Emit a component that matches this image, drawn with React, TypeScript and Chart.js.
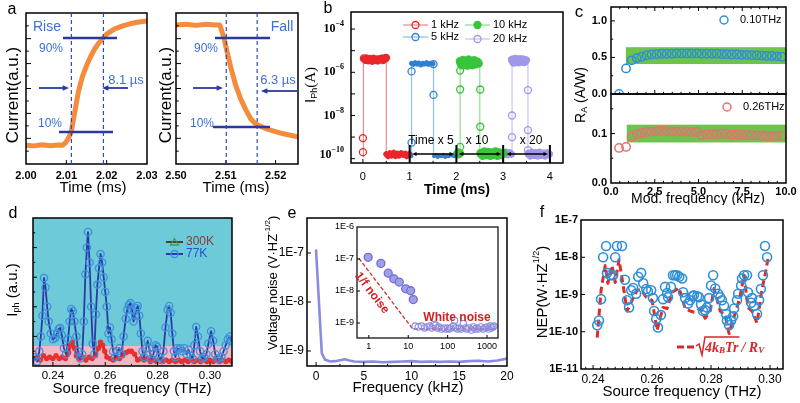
import React, { useEffect, useRef } from 'react';
import { Chart, registerables } from 'chart.js';

Chart.register(...registerables);

const SANS = '"Liberation Sans", Arial, Helvetica, sans-serif';
const SERIF = '"Liberation Serif", "Times New Roman", serif';
Chart.defaults.font.family = SANS;
Chart.defaults.color = '#000';

// ---------------- DATA ----------------
// (a) rise / fall transients
const riseTime = [2.000, 2.002, 2.004, 2.006, 2.008, 2.009, 2.0098, 2.0105, 2.0112, 2.012, 2.013, 2.014, 2.015, 2.016, 2.017, 2.018, 2.019, 2.020, 2.022, 2.024, 2.026, 2.028, 2.030];
const riseCurrent = [0.125, 0.12, 0.128, 0.121, 0.126, 0.124, 0.14, 0.17, 0.21, 0.33, 0.48, 0.58, 0.65, 0.71, 0.76, 0.80, 0.83, 0.86, 0.895, 0.915, 0.93, 0.94, 0.948];
const fallTime = [2.500, 2.502, 2.504, 2.506, 2.508, 2.5088, 2.5092, 2.5097, 2.510, 2.511, 2.512, 2.513, 2.514, 2.515, 2.516, 2.517, 2.518, 2.519, 2.520, 2.521, 2.522, 2.523, 2.5245];
const fallCurrent = [0.92, 0.925, 0.918, 0.926, 0.921, 0.92, 0.88, 0.83, 0.78, 0.64, 0.52, 0.43, 0.36, 0.30, 0.265, 0.25, 0.235, 0.225, 0.215, 0.205, 0.197, 0.19, 0.18];
const aTicksX1 = [2.0, 2.01, 2.02, 2.03];
const aTicksX2 = [2.5, 2.51, 2.52];

// (b) photocurrent vs time, 4 modulation frequencies
const bLegend = ['1 kHz', '5 kHz', '10 kHz', '20 kHz'];
const bTicksX = [0, 1, 2, 3, 4];
const bLabelExp = [-4, -6, -8, -10];
const bRedPlateauT = [0.02, 0.05, 0.08, 0.11, 0.14, 0.17, 0.2, 0.23, 0.26, 0.29, 0.32, 0.35, 0.38, 0.41, 0.44, 0.47, 0.5];
const bRedPlateauI = [4.2e-6, 3.6e-6, 4.6e-6, 3.4e-6, 4.4e-6, 3.8e-6, 3.2e-6, 4.5e-6, 3.6e-6, 4.1e-6, 3.3e-6, 4.3e-6, 3.7e-6, 4.6e-6, 3.5e-6, 4.2e-6, 4.8e-6];
const bRedFloorT = [0.5, 0.54, 0.58, 0.62, 0.66, 0.7, 0.74, 0.78, 0.82, 0.86, 0.9, 0.94, 0.98];
const bRedFloorI = [1.6e-10, 1.3e-10, 1.8e-10, 1.4e-10, 1.9e-10, 1.3e-10, 1.7e-10, 1.4e-10, 1.8e-10, 1.5e-10, 1.7e-10, 1.3e-10, 1.6e-10];
const bRedEdgeT = [0.01, 0.01, 0.5, 0.5];
const bRedEdgeI = [1.2e-10, 4e-6, 4e-6, 1.4e-10];
const bRedMarkT = [0.0, 0.0, 0.02, 0.49];
const bRedMarkI = [2e-10, 9e-10, 4.4e-6, 4.6e-6];
const bBluePreT = [0.99, 1.02, 1.04];
const bBluePreI = [1.4e-10, 1.7e-10, 1.3e-10];
const bBluePlateauT = [1.04, 1.08, 1.12, 1.16, 1.2, 1.24, 1.28, 1.32, 1.36, 1.4, 1.44, 1.48, 1.5];
const bBluePlateauI = [2.6e-6, 2.3e-6, 2.8e-6, 2.4e-6, 2.7e-6, 2.2e-6, 2.6e-6, 2.4e-6, 2.8e-6, 2.3e-6, 2.6e-6, 2.4e-6, 2.5e-6];
const bBlueFloorT = [1.52, 1.56, 1.6, 1.64, 1.68, 1.72, 1.76, 1.8, 1.84, 1.88, 1.92, 1.96];
const bBlueFloorI = [1.3e-10, 1.5e-10, 1.2e-10, 1.4e-10, 1.3e-10, 1.5e-10, 1.2e-10, 1.4e-10, 1.3e-10, 1.5e-10, 1.4e-10, 1.3e-10];
const bBlueEdgeT = [1.04, 1.04, 1.51, 1.51];
const bBlueEdgeI = [1.3e-10, 2.5e-6, 2.5e-6, 1.3e-10];
const bBlueMarkT = [1.04, 1.04, 1.51, 1.51];
const bBlueMarkI = [1.1e-6, 5.5e-10, 2.4e-6, 9e-8];
const bGreenPreT = [2.0, 2.03, 2.06, 2.08];
const bGreenPreI = [1.7e-10, 2.1e-10, 1.5e-10, 1.9e-10];
const bGreenPlateauT = [2.08, 2.11, 2.14, 2.17, 2.2, 2.23, 2.26, 2.29, 2.32, 2.35, 2.38, 2.41, 2.44, 2.47];
const bGreenPlateauI = [3.2e-6, 2.2e-6, 3.6e-6, 2.4e-6, 3.4e-6, 2.1e-6, 3.8e-6, 2.5e-6, 3.3e-6, 2.2e-6, 3.5e-6, 2.4e-6, 3.1e-6, 2.6e-6];
const bGreenFloorT = [2.52, 2.56, 2.6, 2.64, 2.68, 2.72, 2.76, 2.8, 2.84, 2.88, 2.92, 2.96, 3.0];
const bGreenFloorI = [1.8e-10, 1.4e-10, 2.1e-10, 1.5e-10, 2e-10, 1.4e-10, 1.9e-10, 1.5e-10, 2.1e-10, 1.4e-10, 1.9e-10, 1.5e-10, 1.8e-10];
const bGreenEdgeT = [2.08, 2.08, 2.5, 2.5];
const bGreenEdgeI = [1.5e-10, 3e-6, 3e-6, 1.6e-10];
const bGreenMarkT = [2.08, 2.08, 2.08, 2.51, 2.51];
const bGreenMarkI = [1.2e-6, 1.6e-7, 3.5e-10, 1.6e-7, 3e-9];
const bPurplePreT = [3.02, 3.06, 3.1, 3.14, 3.18];
const bPurplePreI = [1.6e-10, 2e-10, 1.5e-10, 1.9e-10, 1.6e-10];
const bPurplePlateauT = [3.19, 3.22, 3.25, 3.28, 3.31, 3.34, 3.37, 3.4, 3.43, 3.46, 3.49];
const bPurplePlateauI = [3.8e-6, 2.8e-6, 4.2e-6, 3e-6, 4e-6, 2.9e-6, 4.1e-6, 3.1e-6, 3.9e-6, 3e-6, 3.6e-6];
const bPurpleFloorT = [3.54, 3.58, 3.62, 3.66, 3.7, 3.74, 3.78, 3.82, 3.86, 3.9, 3.94, 3.98];
const bPurpleFloorI = [1.7e-10, 1.4e-10, 1.9e-10, 1.5e-10, 1.8e-10, 1.4e-10, 1.9e-10, 1.5e-10, 1.7e-10, 1.4e-10, 1.8e-10, 1.6e-10];
const bPurpleEdgeT = [3.19, 3.19, 3.53, 3.53];
const bPurpleEdgeI = [1.5e-10, 3.5e-6, 3.5e-6, 1.6e-10];
const bPurpleMarkT = [3.19, 3.19, 3.19, 3.53, 3.53, 3.53];
const bPurpleMarkI = [3.8e-6, 1e-8, 1e-9, 1.5e-7, 2.1e-9, 2.5e-10];

// (c) responsivity vs modulation frequency
const cModFreq = [0.46, 0.86, 1.18, 1.47, 1.75, 2.04, 2.32, 2.61, 2.9, 3.18, 3.47, 3.75, 4.04, 4.33, 4.61, 4.9, 5.18, 5.47, 5.76, 6.04, 6.33, 6.61, 6.9, 7.19, 7.47, 7.76, 8.04, 8.33, 8.62, 8.9, 9.19, 9.47, 9.76];
const cResp010 = [0.0, 0.35, 0.46, 0.49, 0.51, 0.53, 0.54, 0.545, 0.55, 0.55, 0.55, 0.555, 0.555, 0.555, 0.555, 0.555, 0.55, 0.55, 0.55, 0.55, 0.545, 0.545, 0.54, 0.54, 0.535, 0.535, 0.53, 0.53, 0.525, 0.52, 0.52, 0.515, 0.51];
const cResp026 = [0.071, 0.073, 0.094, 0.099, 0.101, 0.103, 0.104, 0.105, 0.106, 0.105, 0.104, 0.104, 0.105, 0.104, 0.103, 0.103, 0.097, 0.098, 0.099, 0.099, 0.1, 0.099, 0.098, 0.098, 0.097, 0.097, 0.096, 0.096, 0.096, 0.095, 0.095, 0.095, 0.096];
const cBand010 = [0.85, 10, 0.41, 0.64];
const cBand026 = [0.9, 10, 0.082, 0.118];
const cTicksX = [0, 2.5, 5, 7.5, 10];

// (d) photocurrent spectrum
const dFreq77 = [
  0.2330, 0.2340, 0.2348, 0.2354, 0.2360, 0.2366, 0.2372, 0.2378, 0.2384, 0.2392,
  0.2400, 0.2408, 0.2416, 0.2422, 0.2428, 0.2434, 0.2442, 0.2450, 0.2458, 0.2464,
  0.2470, 0.2476, 0.2482, 0.2490, 0.2496, 0.2504, 0.2512, 0.2518, 0.2524, 0.2530,
  0.2534, 0.2540, 0.2546, 0.2552, 0.2558, 0.2564, 0.2570, 0.2576, 0.2582, 0.2588,
  0.2594, 0.2600, 0.2606, 0.2612, 0.2618, 0.2624, 0.2630, 0.2638, 0.2646, 0.2654,
  0.2662, 0.2670, 0.2678, 0.2684, 0.2690, 0.2696, 0.2702, 0.2708, 0.2714, 0.2720,
  0.2724, 0.2730, 0.2736, 0.2742, 0.2748, 0.2756, 0.2762, 0.2768, 0.2776, 0.2784,
  0.2792, 0.2798, 0.2806, 0.2814, 0.2822, 0.2830, 0.2838, 0.2844, 0.2850, 0.2856,
  0.2862, 0.2868, 0.2874, 0.2880, 0.2886, 0.2894, 0.2902, 0.2910, 0.2918, 0.2926,
  0.2934, 0.2940, 0.2947, 0.2954, 0.2962, 0.2970, 0.2978, 0.2986, 0.2994, 0.3004,
  0.3012, 0.3020, 0.3028, 0.3036, 0.3044, 0.3052, 0.3060, 0.3068, 0.3076, 0.3082];
const dIph77 = [
  0.06, 0.03, 0.10, 0.20, 0.34, 0.595, 0.53, 0.40, 0.30, 0.22,
  0.18, 0.19, 0.22, 0.25, 0.257, 0.21, 0.12, 0.08, 0.18, 0.30,
  0.385, 0.37, 0.30, 0.20, 0.10, 0.05, 0.08, 0.30, 0.62, 0.80,
  0.905, 0.70, 0.40, 0.15, 0.08, 0.35, 0.55, 0.66, 0.757, 0.70,
  0.60, 0.50, 0.40, 0.22, 0.26, 0.18, 0.10, 0.06, 0.10, 0.12,
  0.08, 0.20, 0.32, 0.38, 0.41, 0.425, 0.38, 0.30, 0.34, 0.39,
  0.405, 0.34, 0.22, 0.10, 0.06, 0.12, 0.17, 0.12, 0.05, 0.08,
  0.14, 0.13, 0.06, 0.04, 0.10, 0.26, 0.38, 0.405, 0.36, 0.22,
  0.10, 0.06, 0.12, 0.11, 0.12, 0.10, 0.12, 0.08, 0.11, 0.07,
  0.05, 0.14, 0.264, 0.20, 0.10, 0.05, 0.06, 0.08, 0.15, 0.235,
  0.17, 0.08, 0.05, 0.04, 0.06, 0.10, 0.14, 0.18, 0.20, 0.17];
const dFreq300 = [
  0.2328, 0.2340, 0.2352, 0.2364, 0.2376, 0.2388, 0.2400, 0.2412, 0.2424, 0.2436,
  0.2448, 0.2460, 0.2466, 0.2474, 0.2482, 0.2490, 0.2502, 0.2514, 0.2526, 0.2538,
  0.2550, 0.2562, 0.2574, 0.2582, 0.2590, 0.2598, 0.2606, 0.2618, 0.2630, 0.2642,
  0.2654, 0.2666, 0.2678, 0.2690, 0.2700, 0.2712, 0.2724, 0.2736, 0.2748, 0.2760,
  0.2772, 0.2784, 0.2796, 0.2808, 0.2820, 0.2832, 0.2844, 0.2856, 0.2868, 0.2880,
  0.2892, 0.2904, 0.2916, 0.2928, 0.2940, 0.2952, 0.2964, 0.2976, 0.2988, 0.3000,
  0.3012, 0.3024, 0.3036, 0.3048, 0.3060, 0.3072, 0.3084];
const dIph300 = [
  0.05, 0.06, 0.04, 0.07, 0.05, 0.06, 0.05, 0.07, 0.05, 0.06,
  0.05, 0.09, 0.14, 0.16, 0.12, 0.07, 0.05, 0.06, 0.04, 0.06,
  0.05, 0.07, 0.12, 0.16, 0.14, 0.10, 0.06, 0.05, 0.04, 0.06,
  0.05, 0.07, 0.09, 0.10, 0.10, 0.08, 0.04, 0.05, 0.04, 0.05,
  0.03, 0.04, 0.03, 0.05, 0.03, 0.04, 0.03, 0.04, 0.03, 0.04,
  0.03, 0.04, 0.03, 0.04, 0.03, 0.04, 0.03, 0.04, 0.03, 0.04,
  0.03, 0.04, 0.03, 0.04, 0.03, 0.04, 0.03];
const dTicksX = [0.24, 0.26, 0.28, 0.30];
const dPinkTop = 0.135;

// (e) voltage noise
const eFreq = [0, 0.6, 0.95, 1.5, 2, 2.5, 3, 3.5, 4, 5, 6, 7, 8, 9, 10, 11, 12, 13, 14, 15, 16, 17, 18, 19, 20];
const eNoise = [1.12e-7, 9e-10, 6.6e-10, 6.1e-10, 6.2e-10, 6.5e-10, 6.8e-10, 6.4e-10, 6.1e-10, 6e-10, 6.1e-10, 5.9e-10, 6e-10, 6.1e-10, 6.2e-10, 6e-10, 6.1e-10, 6e-10, 6.1e-10, 6e-10, 6.2e-10, 6.3e-10, 6.1e-10, 6.4e-10, 7e-10];
const eTicksX = [0, 5, 10, 15, 20];
const eTicksY = [1e-9, 1e-8, 1e-7];
const insetFlickerF = [0.96, 2.02, 3.1, 4.3, 5.9, 8.6, 11.5, 13.4];
const insetFlickerN = [1.13e-7, 7.3e-8, 3.6e-8, 2.4e-8, 1.9e-8, 1.17e-8, 1.02e-8, 5.4e-9];
const insetWhiteF = [15, 18, 22, 26, 30, 35, 40, 45, 50, 55, 60, 70, 80, 90, 100, 110, 120, 140, 150, 160, 180, 200, 220, 250, 280, 300, 350, 400, 450, 500, 550, 600, 700, 800, 900, 1000, 1100, 1200, 1300, 1400, 1500];
const insetWhiteN = [8e-10, 7.5e-10, 8e-10, 7e-10, 7.5e-10, 8e-10, 7e-10, 9e-10, 8.5e-10, 7e-10, 7.5e-10, 6.5e-10, 7e-10, 6.5e-10, 7e-10, 6.5e-10, 7e-10, 8e-10, 1.2e-9, 7e-10, 6.5e-10, 7e-10, 6.5e-10, 9.5e-10, 7e-10, 6.5e-10, 7e-10, 6e-10, 7.5e-10, 6.5e-10, 7e-10, 6.5e-10, 7.5e-10, 6.5e-10, 7e-10, 7.5e-10, 6.5e-10, 8e-10, 7e-10, 7.5e-10, 8e-10];
const insetGuideF = [0.56, 13, 1900];
const insetGuideN = [1.05e-7, 6.5e-10, 6.5e-10];
const insetTicksX = [1, 10, 100, 1000];
const insetTicksY = [1e-9, 1e-8, 1e-7, 1e-6];

// (f) NEP spectrum
const fFreq = [
  0.2414, 0.2420, 0.2427, 0.2434, 0.2444, 0.2447, 0.2458, 0.2468, 0.2475, 0.2481,
  0.2498, 0.2508, 0.2515, 0.2522, 0.2529, 0.2536, 0.2546, 0.2553, 0.2563, 0.2570,
  0.2580, 0.2586, 0.2597, 0.2603, 0.2607, 0.2614, 0.2620, 0.2630, 0.2637, 0.2644,
  0.2651, 0.2654, 0.2664, 0.2671, 0.2678, 0.2685, 0.2692, 0.2702, 0.2705, 0.2712,
  0.2722, 0.2729, 0.2736, 0.2742, 0.2753, 0.2759, 0.2766, 0.2773, 0.2780, 0.2786,
  0.2793, 0.2800, 0.2807, 0.2814, 0.2824, 0.2831, 0.2837, 0.2844, 0.2851, 0.2854,
  0.2861, 0.2868, 0.2875, 0.2878, 0.2888, 0.2892, 0.2902, 0.2905, 0.2912, 0.2922,
  0.2925, 0.2936, 0.2939, 0.2946, 0.2956, 0.2963, 0.2969, 0.2976, 0.2983, 0.2990];
const fNEP = [
  1.5e-10, 2e-10, 7.5e-10, 1e-8, 2e-8, 3.8e-9, 3.3e-9, 3.3e-9, 1e-8, 2e-8,
  2e-8, 2.5e-9, 7e-10, 4.5e-10, 1.3e-9, 1.5e-9, 1.05e-9, 3e-9, 3.8e-9, 2e-9,
  1.4e-9, 1.2e-9, 1.3e-9, 8e-10, 3.6e-10, 2.2e-10, 1.3e-10, 2.8e-10, 7.5e-10, 1.6e-9,
  1.1e-9, 8.5e-10, 1.6e-9, 3.3e-9, 3.3e-9, 3.3e-9, 3e-9, 2.7e-9, 1.15e-9, 8e-10,
  5.7e-10, 7e-10, 9e-10, 9.5e-10, 9e-10, 8.5e-10, 5.4e-10, 3.6e-10, 3.8e-10, 4.5e-10,
  8e-10, 1.75e-9, 3.3e-9, 1.45e-9, 1.05e-9, 8.5e-10, 7e-10, 5e-10, 3e-10, 2e-10,
  1.5e-10, 2e-10, 2.6e-10, 4.2e-10, 7e-10, 1.05e-9, 1.75e-9, 2.7e-9, 3.3e-9, 3.3e-9,
  1.15e-9, 6e-10, 8e-10, 5e-10, 3e-10, 7e-10, 1.4e-9, 3.3e-9, 2e-8, 1e-8];
const fFitFreq = [
  0.2414, 0.2427, 0.2441, 0.2450, 0.2464, 0.2475, 0.2488, 0.2502, 0.2515, 0.2536,
  0.2549, 0.2563, 0.2580, 0.2600, 0.2617, 0.2637, 0.2651, 0.2668, 0.2692, 0.2712,
  0.2729, 0.2746, 0.2763, 0.2780, 0.2797, 0.2810, 0.2831, 0.2848, 0.2861, 0.2881,
  0.2898, 0.2912, 0.2925, 0.2939, 0.2956, 0.2973, 0.2983, 0.2993];
const fFitNEP = [
  7e-11, 1.3e-9, 6e-9, 2e-9, 6e-9, 2.1e-9, 8.6e-9, 1.75e-9, 3.6e-10, 8e-10,
  1.3e-9, 1.35e-9, 8.5e-10, 7e-10, 1.1e-10, 4.5e-10, 4.2e-10, 1.15e-9, 1.5e-9, 4.2e-10,
  3.6e-10, 3.3e-10, 4.2e-10, 2.3e-10, 3.6e-10, 1.45e-9, 3.6e-10, 2.7e-10, 9e-11, 3e-10,
  8.5e-10, 3.3e-9, 4.5e-10, 3.6e-10, 1.7e-10, 1.45e-9, 3.3e-9, 9e-9];
const fTicksX = [0.24, 0.26, 0.28, 0.30];
const fTicksY = [1e-11, 1e-10, 1e-9, 1e-8, 1e-7];

// ---------------- HELPERS ----------------
type Ctx = CanvasRenderingContext2D;
interface Part { t: string; size: number; weight?: string; italic?: boolean; family?: string; dy?: number; color?: string }
interface Axis {
  type?: string; min: number; max: number; ticks?: number[]; minor?: number[];
  fmt?: (v: number) => string; font?: any; pad?: number; len?: number; sides?: string[];
}
interface Helper { sx: (v: number) => number; sy: (v: number) => number; l: number; t: number; r: number; b: number }
interface Spec {
  box: number[]; plot: number[]; x: Axis; y: Axis; datasets: any[];
  bg?: (c: Ctx, h: Helper) => void; fg?: (c: Ctx, h: Helper) => void; frame?: number; plotBg?: string;
}

const pts = (xs: number[], ys: number[]) => xs.map((x, i) => ({ x, y: ys[i] }));
const logLabel = (v: number) => '1E' + Math.round(Math.log10(v));

function rich(c: Ctx, x: number, y: number, parts: Part[], o: any = {}): number {
  const angle = o.angle || 0, align = o.align || 'center', color = o.color || '#000';
  c.save();
  c.translate(x, y);
  if (angle) c.rotate(angle);
  const fonts = parts.map((p) => `${p.italic ? 'italic ' : ''}${p.weight || 'normal'} ${p.size}px ${p.family || SANS}`);
  const ws = parts.map((p, i) => { c.font = fonts[i]; return c.measureText(p.t).width; });
  const tot = ws.reduce((s, w) => s + w, 0);
  let px = align === 'center' ? -tot / 2 : align === 'right' ? -tot : 0;
  c.textAlign = 'left';
  c.textBaseline = 'middle';
  parts.forEach((p, i) => { c.font = fonts[i]; c.fillStyle = p.color || color; c.fillText(p.t, px, p.dy || 0); px += ws[i]; });
  c.restore();
  return tot;
}
const txt = (c: Ctx, x: number, y: number, t: string, size: number, o: any = {}) =>
  rich(c, x, y, [{ t, size, weight: o.weight, family: o.family, italic: o.italic }], o);

function seg(c: Ctx, x1: number, y1: number, x2: number, y2: number, color: string, lw = 1, dash: number[] = []) {
  c.save(); c.strokeStyle = color; c.lineWidth = lw; c.setLineDash(dash);
  c.beginPath(); c.moveTo(x1, y1); c.lineTo(x2, y2); c.stroke(); c.restore();
}
function arrow(c: Ctx, x1: number, y1: number, x2: number, y2: number, color: string, lw = 1.5, head = 6, both = false) {
  c.save(); c.strokeStyle = color; c.fillStyle = color; c.lineWidth = lw;
  const a = Math.atan2(y2 - y1, x2 - x1);
  const hd = (x: number, y: number, an: number) => {
    c.beginPath(); c.moveTo(x, y);
    c.lineTo(x - head * Math.cos(an - 0.42), y - head * Math.sin(an - 0.42));
    c.lineTo(x - head * Math.cos(an + 0.42), y - head * Math.sin(an + 0.42));
    c.closePath(); c.fill();
  };
  c.beginPath();
  c.moveTo(x1 + (both ? Math.cos(a) * head * 0.8 : 0), y1);
  c.lineTo(x2 - Math.cos(a) * head * 0.8, y2 - Math.sin(a) * head * 0.8);
  c.stroke();
  hd(x2, y2, a); if (both) hd(x1, y1, a + Math.PI);
  c.restore();
}
function circle(c: Ctx, x: number, y: number, r: number, stroke: string, fill?: string, lw = 1.3) {
  c.save(); c.beginPath(); c.arc(x, y, r, 0, Math.PI * 2);
  if (fill) { c.fillStyle = fill; c.fill(); }
  c.strokeStyle = stroke; c.lineWidth = lw; c.stroke(); c.restore();
}

const lineDs = (xs: number[], ys: number[], color: string, width: number, extra: any = {}) => ({
  data: pts(xs, ys), borderColor: color, borderWidth: width, pointRadius: 0, fill: false, tension: 0,
  borderJoinStyle: 'round', borderCapStyle: 'round', ...extra,
});
const dotDs = (xs: number[], ys: number[], color: string, r = 3.5, extra: any = {}) => ({
  data: pts(xs, ys), showLine: false, borderColor: color, pointBorderColor: color,
  pointBackgroundColor: 'rgba(0,0,0,0)', pointRadius: r, pointBorderWidth: 1.3, ...extra,
});

function innerTicks(c: Ctx, chart: any, a: Axis, isX: boolean) {
  const sc = chart.scales[isX ? 'x' : 'y'];
  const ca = chart.chartArea;
  const sides = a.sides || [isX ? 'bottom' : 'left'];
  const L = a.len ?? 4;
  const lo = Math.min(a.min, a.max), hi = Math.max(a.min, a.max);
  const draw = (vals: number[] | undefined, len: number) => (vals || []).forEach((v) => {
    if (v <= lo || v >= hi) return;
    const p = sc.getPixelForValue(v);
    sides.forEach((s) => {
      c.beginPath();
      if (s === 'bottom') { c.moveTo(p, ca.bottom); c.lineTo(p, ca.bottom - len); }
      else if (s === 'top') { c.moveTo(p, ca.top); c.lineTo(p, ca.top + len); }
      else if (s === 'left') { c.moveTo(ca.left, p); c.lineTo(ca.left + len, p); }
      else { c.moveTo(ca.right, p); c.lineTo(ca.right - len, p); }
      c.stroke();
    });
  });
  draw(a.ticks, L);
  draw(a.minor, L * 0.55);
}

function build(spec: Spec) {
  const [bx, by, bw, bh] = spec.box;
  const [pl, pt, pr, pb] = spec.plot;
  const axis = (a: Axis, isX: boolean) => ({
    type: a.type || 'linear', min: a.min, max: a.max, position: isX ? 'bottom' : 'left',
    afterBuildTicks: (s: any) => { s.ticks = (a.ticks || []).map((v) => ({ value: v })); },
    afterFit: (s: any) => {
      if (isX) s.height = by + bh - pb; else s.width = pl - bx;
      s.paddingLeft = 0; s.paddingRight = 0; s.paddingTop = 0; s.paddingBottom = 0;
    },
    ticks: {
      display: !!a.fmt, callback: (v: any) => (a.fmt ? a.fmt(Number(v)) : ''),
      font: { family: SANS, size: 11, ...(a.font || {}) }, color: '#000', padding: a.pad ?? 3,
      autoSkip: false, maxRotation: 0, minRotation: 0,
    },
    grid: { display: false, drawTicks: false, tickLength: 0 }, border: { display: false }, title: { display: false },
  });
  const helper = (chart: any): Helper => ({
    sx: (v) => chart.scales.x.getPixelForValue(v) + bx,
    sy: (v) => chart.scales.y.getPixelForValue(v) + by,
    l: chart.chartArea.left + bx, t: chart.chartArea.top + by,
    r: chart.chartArea.right + bx, b: chart.chartArea.bottom + by,
  });
  const plugin = {
    id: 'panelDeco',
    beforeDatasetsDraw(chart: any) {
      const c = chart.ctx; const a = chart.chartArea;
      c.save();
      if (spec.plotBg) { c.fillStyle = spec.plotBg; c.fillRect(a.left, a.top, a.right - a.left, a.bottom - a.top); }
      c.translate(-bx, -by);
      if (spec.bg) spec.bg(c, helper(chart));
      c.restore();
    },
    afterDraw(chart: any) {
      const c = chart.ctx; const a = chart.chartArea;
      c.save();
      c.strokeStyle = '#000'; c.lineWidth = 1;
      innerTicks(c, chart, spec.x, true);
      innerTicks(c, chart, spec.y, false);
      c.lineWidth = spec.frame ?? 1.5;
      c.strokeRect(a.left, a.top, a.right - a.left, a.bottom - a.top);
      c.translate(-bx, -by);
      if (spec.fg) spec.fg(c, helper(chart));
      c.restore();
    },
  };
  return {
    type: 'line',
    data: { datasets: spec.datasets },
    options: {
      responsive: false, animation: false, devicePixelRatio: 1, events: [],
      layout: { padding: { left: 0, top: pt - by, right: bx + bw - pr, bottom: 0 } },
      scales: { x: axis(spec.x, true), y: axis(spec.y, false) },
      plugins: { legend: { display: false }, tooltip: { enabled: false } },
    },
    plugins: [plugin],
  };
}

// ---------------- PANELS ----------------
const BL = '#3b6fd9';
const NV = '#2a3a9c';
const ORANGE = '#f58b3c';
const aYTicks = [0.17, 0.335, 0.5, 0.665, 0.83];
const aYMinor = [0.085, 0.2525, 0.4175, 0.5825, 0.7475, 0.915];

const A_LEFT: Spec = {
  box: [0, 0, 166, 200], plot: [26, 13, 147, 164],
  x: { min: 2.0, max: 2.03, ticks: aTicksX1, fmt: (v) => v.toFixed(2), font: { size: 11, weight: 'bold' }, pad: 5 },
  y: { min: 0, max: 1, ticks: aYTicks, minor: aYMinor, len: 5 },
  datasets: [lineDs(riseTime, riseCurrent, ORANGE, 5)],
  fg: (c, h) => {
    txt(c, 12, 10, 'a', 16);
    txt(c, 13, 95, 'Current(a.u.)', 17, { angle: -Math.PI / 2 });
    txt(c, 93, 188, 'Time (ms)', 15);
    txt(c, 47, 27, 'Rise', 14, { color: BL });
    seg(c, 63, 38, 117, 38, NV, 2.4);
    seg(c, 59, 132, 113, 132, NV, 2.4);
    txt(c, 51, 49, '90%', 12, { color: BL });
    txt(c, 50, 124, '10%', 12, { color: BL });
    [2.01125, 2.0192].forEach((t) => seg(c, h.sx(t), h.t, h.sx(t), h.b, '#3346c0', 1.2, [4, 3]));
    arrow(c, 39, 88, 69, 88, NV, 1.8, 7);
    arrow(c, 128, 88, 102, 88, NV, 1.8, 7);
    txt(c, 126, 80, '8.1 µs', 13, { color: BL });
  },
};

const A_RIGHT: Spec = {
  box: [150, 0, 162, 200], plot: [176, 13, 298, 164],
  x: { min: 2.5, max: 2.5245, ticks: aTicksX2, fmt: (v) => v.toFixed(2), font: { size: 11, weight: 'bold' }, pad: 5 },
  y: { min: 0, max: 1, ticks: aYTicks, minor: aYMinor, len: 5 },
  datasets: [lineDs(fallTime, fallCurrent, ORANGE, 5)],
  fg: (c, h) => {
    txt(c, 166, 95, 'Current(a.u.)', 17, { angle: -Math.PI / 2 });
    txt(c, 236, 188, 'Time (ms)', 15);
    txt(c, 282, 27, 'Fall', 14, { color: BL });
    seg(c, 215, 38, 270, 38, NV, 2.4);
    seg(c, 213, 127, 270, 127, NV, 2.4);
    txt(c, 206, 49, '90%', 12, { color: BL });
    txt(c, 202, 124, '10%', 12, { color: BL });
    [2.5101, 2.5163].forEach((t) => seg(c, h.sx(t), h.t, h.sx(t), h.b, '#3346c0', 1.2, [4, 3]));
    arrow(c, 193, 88, 223, 88, NV, 1.8, 7);
    arrow(c, 297, 91, 261, 91, NV, 1.8, 7);
    txt(c, 278, 80, '6.3 µs', 13, { color: BL });
  },
};

const RED_D = '#e8262c', RED_L = 'rgba(240,120,120,0.85)';
const BLU_D = '#2f7fd2', BLU_L = '#8fc2ee';
const GRN_D = '#3ac43a', GRN_L = '#8fe08f';
const PUR_D = '#a097e8', PUR_L = '#c9c3f3';

const B: Spec = {
  box: [300, 0, 272, 200], plot: [351, 12, 563, 163],
  x: { min: -0.255, max: 4.28, ticks: bTicksX, fmt: (v) => String(v), font: { size: 11 }, pad: 7, minor: [0.5, 1.5, 2.5, 3.5] },
  y: { type: 'logarithmic', min: 6.3e-11, max: 6.2e-4, ticks: [1e-10, 1e-9, 1e-8, 1e-7, 1e-6, 1e-5, 1e-4], len: 4 },
  datasets: [
    dotDs(bRedMarkT, bRedMarkI, RED_D),
    dotDs(bBlueMarkT, bBlueMarkI, BLU_D),
    dotDs(bGreenMarkT, bGreenMarkI, GRN_D),
    dotDs(bPurpleMarkT, bPurpleMarkI, PUR_D),
    lineDs(bRedPlateauT, bRedPlateauI, RED_D, 7),
    lineDs(bRedFloorT, bRedFloorI, RED_D, 6),
    lineDs(bBluePlateauT, bBluePlateauI, BLU_D, 5),
    lineDs(bBlueFloorT, bBlueFloorI, BLU_D, 4),
    lineDs(bBluePreT, bBluePreI, BLU_D, 4),
    lineDs(bGreenPlateauT, bGreenPlateauI, GRN_D, 9),
    lineDs(bGreenFloorT, bGreenFloorI, GRN_D, 9),
    lineDs(bGreenPreT, bGreenPreI, GRN_D, 7),
    lineDs(bPurplePlateauT, bPurplePlateauI, PUR_D, 8),
    lineDs(bPurpleFloorT, bPurpleFloorI, PUR_D, 8),
    lineDs(bPurplePreT, bPurplePreI, PUR_D, 7),
    lineDs(bRedEdgeT, bRedEdgeI, RED_L, 1.2),
    lineDs(bBlueEdgeT, bBlueEdgeI, BLU_L, 1.2),
    lineDs(bGreenEdgeT, bGreenEdgeI, GRN_L, 1.2),
    lineDs(bPurpleEdgeT, bPurpleEdgeI, PUR_L, 1.2),
  ],
  fg: (c, h) => {
    txt(c, 328, 9, 'b', 16);
    bLabelExp.forEach((e) => {
      const y = h.sy(Math.pow(10, e)) - (e === -10 ? 4 : 0);
      rich(c, 344, y, [
        { t: '10', size: 12, weight: 'bold', family: SERIF },
        { t: '\u2212' + (-e), size: 8, weight: 'bold', family: SERIF, dy: -5 },
      ], { align: 'right' });
    });
    rich(c, 311, 85, [{ t: 'I', size: 15 }, { t: 'Ph', size: 9, dy: 4 }, { t: '(A)', size: 15, family: SERIF }], { angle: -Math.PI / 2 });
    txt(c, 457, 190, 'Time (ms)', 14, { weight: 'bold' });
    const leg = [
      { x: 403, y: 25, l: RED_L, m: RED_D, f: undefined },
      { x: 403, y: 37, l: BLU_L, m: BLU_D, f: undefined },
      { x: 465, y: 25, l: GRN_L, m: GRN_D, f: GRN_D },
      { x: 465, y: 39, l: PUR_L, m: PUR_D, f: undefined },
    ];
    leg.forEach((g, i) => {
      seg(c, g.x, g.y, g.x + 25, g.y, g.l, 1.3);
      circle(c, g.x + 12.5, g.y, 3.5, g.m, g.f);
      txt(c, g.x + 28, g.y, bLegend[i], 11, { align: 'left' });
    });
    [1, 2, 3, 4].forEach((t) => seg(c, h.sx(t), 145, h.sx(t), h.b, '#000', 2));
    arrow(c, h.sx(1.05), 154, h.sx(1.95), 154, '#000', 1.5, 5, true);
    arrow(c, h.sx(2.05), 154, h.sx(2.96), 154, '#000', 1.5, 5, true);
    arrow(c, h.sx(3.07), 154, h.sx(3.96), 154, '#000', 1.5, 5, true);
    txt(c, 431, 141, 'Time x 5', 12);
    txt(c, 477, 141, 'x 10', 12);
    txt(c, 531, 141, 'x 20', 12);
  },
};

const C_BLUE = '#2f8fd6', C_RED = '#e87070', C_GREEN = 'rgba(98,190,64,0.92)';
const cMinorX = [0.5, 1, 1.5, 2, 3, 3.5, 4, 4.5, 5.5, 6, 6.5, 7, 8, 8.5, 9, 9.5];

const C_TOP: Spec = {
  box: [560, 0, 240, 200], plot: [611, 7, 786, 94],
  x: { min: 0, max: 10, ticks: cTicksX, minor: cMinorX, sides: ['bottom', 'top'], len: 4 },
  y: { min: 0, max: 1.19, ticks: [0, 0.5, 1.0], fmt: (v) => v.toFixed(1), font: { size: 11, weight: 'bold' }, pad: 4, minor: [0.25, 0.75], len: 4 },
  datasets: [dotDs(cModFreq, cResp010, C_BLUE, 4.2, { pointBorderWidth: 1.5 })],
  bg: (c, h) => {
    c.fillStyle = C_GREEN;
    c.fillRect(h.sx(cBand010[0]), h.sy(cBand010[3]), h.sx(cBand010[1]) - h.sx(cBand010[0]), h.sy(cBand010[2]) - h.sy(cBand010[3]));
  },
  fg: (c) => {
    txt(c, 579, 12, 'c', 17);
    rich(c, 581, 95, [{ t: 'R', size: 14 }, { t: 'A', size: 9, dy: 4 }, { t: ' (A/W)', size: 14 }], { angle: -Math.PI / 2 });
    circle(c, 724, 20, 4, C_BLUE, undefined, 1.5);
    txt(c, 740, 20, '0.10THz', 11, { align: 'left' });
  },
};

const C_BOT: Spec = {
  box: [560, 88, 240, 117], plot: [611, 94, 786, 183],
  x: { min: 0, max: 10, ticks: cTicksX, minor: cMinorX, fmt: (v) => v.toFixed(1), font: { size: 11, weight: 'bold' }, pad: 2, len: 4 },
  y: { min: 0, max: 0.18, ticks: [0, 0.1], fmt: (v) => v.toFixed(1), font: { size: 11, weight: 'bold' }, pad: 4, minor: [0.05, 0.15], len: 4 },
  datasets: [dotDs(cModFreq, cResp026, C_RED, 4.2, { pointBorderWidth: 1.5 })],
  bg: (c, h) => {
    c.fillStyle = C_GREEN;
    c.fillRect(h.sx(cBand026[0]), h.sy(cBand026[3]), h.sx(cBand026[1]) - h.sx(cBand026[0]), h.sy(cBand026[2]) - h.sy(cBand026[3]));
  },
  fg: (c) => {
    circle(c, 727, 107, 4, C_RED, undefined, 1.5);
    txt(c, 743, 107, '0.26THz', 11, { align: 'left' });
    txt(c, 698, 199, 'Mod. frequency (kHz)', 14);
  },
};

const D: Spec = {
  box: [0, 200, 262, 203], plot: [33, 218, 232, 366],
  x: { min: 0.2324, max: 0.3084, ticks: dTicksX, fmt: (v) => v.toFixed(2), font: { size: 11.5 }, pad: 3, minor: [0.25, 0.27, 0.29] },
  y: { min: 0, max: 1, ticks: [0.2, 0.4, 0.6, 0.8], minor: [0.1, 0.3, 0.5, 0.7, 0.9], len: 4 },
  plotBg: '#6dcad8',
  datasets: [
    lineDs(dFreq77, dIph77, '#2b3aa6', 1.8, { pointRadius: 3.6, pointBorderColor: '#3d8fdc', pointBackgroundColor: 'rgba(0,0,0,0)', pointBorderWidth: 1.3 }),
    lineDs(dFreq300, dIph300, '#e01818', 2.6, { pointRadius: 1.4, pointBackgroundColor: '#e83030', pointBorderColor: '#e83030' }),
  ],
  bg: (c, h) => {
    c.fillStyle = '#f3b7c1';
    c.fillRect(h.l, h.sy(dPinkTop), h.r - h.l, h.b - h.sy(dPinkTop));
  },
  fg: (c) => {
    txt(c, 13, 214, 'd', 16);
    rich(c, 13, 290, [{ t: 'I', size: 15 }, { t: 'ph', size: 9, dy: 4 }, { t: ' (a.u.)', size: 15 }], { angle: -Math.PI / 2 });
    txt(c, 132, 389, 'Source frequency (THz)', 15);
    seg(c, 166, 242, 183, 242, '#5a3a2c', 2);
    c.save(); c.strokeStyle = '#3aa14a'; c.lineWidth = 1.3; c.beginPath();
    c.moveTo(174.5, 238.5); c.lineTo(178.5, 245); c.lineTo(170.5, 245); c.closePath(); c.stroke(); c.restore();
    txt(c, 186, 242, '300K', 12, { align: 'left', color: '#8a3b3b' });
    seg(c, 166, 254, 183, 254, '#2b3aa6', 2);
    circle(c, 174.5, 254, 3.5, '#3d8fdc');
    txt(c, 186, 254, '77K', 12, { align: 'left', color: '#2a52cf' });
  },
};

const E: Spec = {
  box: [262, 200, 260, 203], plot: [307, 218, 507, 366],
  x: { min: -0.95, max: 20, ticks: eTicksX, fmt: (v) => String(v), font: { size: 12 }, pad: 3, minor: [2.5, 7.5, 12.5, 17.5] },
  y: { type: 'logarithmic', min: 4.94e-10, max: 5.18e-7, ticks: eTicksY, fmt: logLabel, font: { size: 12 }, pad: 3 },
  datasets: [lineDs(eFreq, eNoise, '#8b8be0', 2.6)],
  fg: (c) => {
    txt(c, 292, 214, 'e', 16);
    rich(c, 273, 283, [{ t: 'Voltage noise (V·HZ', size: 13 }, { t: '-1/2', size: 8, dy: -5 }, { t: ')', size: 13 }], { angle: -Math.PI / 2 });
    txt(c, 408, 388, 'Frequency (kHz)', 15);
  },
};

const INSET: Spec = {
  box: [326, 220, 180, 136], plot: [357, 227, 498, 338],
  x: { type: 'logarithmic', min: 0.5, max: 1900, ticks: insetTicksX, fmt: (v) => String(Math.round(v)), font: { size: 9 }, pad: 3, len: 3 },
  y: { type: 'logarithmic', min: 3.4e-10, max: 1e-6, ticks: insetTicksY, fmt: logLabel, font: { size: 9 }, pad: 3, len: 3 },
  plotBg: '#ffffff', frame: 1.2,
  datasets: [
    dotDs(insetFlickerF, insetFlickerN, '#6f6fcf', 4, { pointBackgroundColor: '#a0a0ea' }),
    dotDs(insetWhiteF, insetWhiteN, '#8c8ce0', 3.2, { pointBorderWidth: 1.1 }),
    lineDs(insetGuideF, insetGuideN, '#d03030', 1.3, { borderDash: [4, 2], borderCapStyle: 'butt' }),
  ],
  fg: (c) => {
    txt(c, 372, 293, '1/f noise', 12, { weight: 'bold', color: '#d42020', angle: 0.92 });
    txt(c, 457, 318, 'White noise', 12, { weight: 'bold', color: '#d42020' });
  },
};

const fMinorX = [0.2375, 0.2425, 0.245, 0.2475, 0.25, 0.2525, 0.255, 0.2575, 0.2625, 0.265, 0.2675, 0.27, 0.2725, 0.275, 0.2775, 0.2825, 0.285, 0.2875, 0.29, 0.2925, 0.295, 0.2975, 0.3025];

const F: Spec = {
  box: [522, 200, 278, 203], plot: [581, 220, 783, 369],
  x: { min: 0.2359, max: 0.3044, ticks: fTicksX, fmt: (v) => v.toFixed(2), font: { size: 12 }, pad: 3, minor: fMinorX },
  y: { type: 'logarithmic', min: 1e-11, max: 1e-7, ticks: fTicksY, fmt: logLabel, font: { size: 11, weight: 'bold' }, pad: 3 },
  datasets: [
    dotDs(fFreq, fNEP, '#2f8fd6', 4.5, { pointBorderWidth: 1.6 }),
    lineDs(fFitFreq, fFitNEP, '#e02a2a', 3, { borderDash: [7, 4], borderCapStyle: 'butt' }),
  ],
  fg: (c) => {
    const R = '#d8262a';
    txt(c, 542, 213, 'f', 16);
    rich(c, 543, 292, [{ t: 'NEP(W·HZ', size: 15 }, { t: '1/2', size: 9, dy: -6 }, { t: ')', size: 15 }], { angle: -Math.PI / 2 });
    txt(c, 682, 392, 'Source frequency (THz)', 15);
    seg(c, 677, 347, 684, 347, R, 3);
    seg(c, 687, 347, 694, 347, R, 3);
    const it = { weight: 'bold', italic: true, family: SERIF };
    const w1 = rich(c, 705, 348, [
      { t: '4k', size: 14, ...it }, { t: 'B', size: 9, dy: 3, ...it }, { t: 'Tr', size: 14, ...it },
    ], { align: 'left', color: R });
    c.save(); c.strokeStyle = R; c.lineWidth = 1.5; c.beginPath();
    c.moveTo(696, 346); c.lineTo(699, 344); c.lineTo(702, 355); c.lineTo(705, 337); c.lineTo(706 + w1, 337); c.stroke(); c.restore();
    rich(c, 708 + w1, 348, [{ t: '/ R', size: 14, ...it }, { t: 'V', size: 9, dy: 3, ...it }], { align: 'left', color: R });
  },
};

const SPECS: Spec[] = [A_LEFT, A_RIGHT, B, C_TOP, C_BOT, D, E, INSET, F];

function Panel({ spec }: { spec: Spec }) {
  const ref = useRef<HTMLCanvasElement | null>(null);
  useEffect(() => {
    if (!ref.current) return;
    const chart = new Chart(ref.current, build(spec) as any);
    return () => chart.destroy();
  }, [spec]);
  const [x, y, w, h] = spec.box;
  return <canvas ref={ref} width={w} height={h} style={{ position: 'absolute', left: x, top: y, width: w, height: h }} />;
}

export default function App() {
  return (
    <div style={{ position: 'fixed', left: 0, top: 0, width: 800, height: 403, overflow: 'hidden', background: '#fff' }}>
      {SPECS.map((s, i) => <Panel key={i} spec={s} />)}
    </div>
  );
}
